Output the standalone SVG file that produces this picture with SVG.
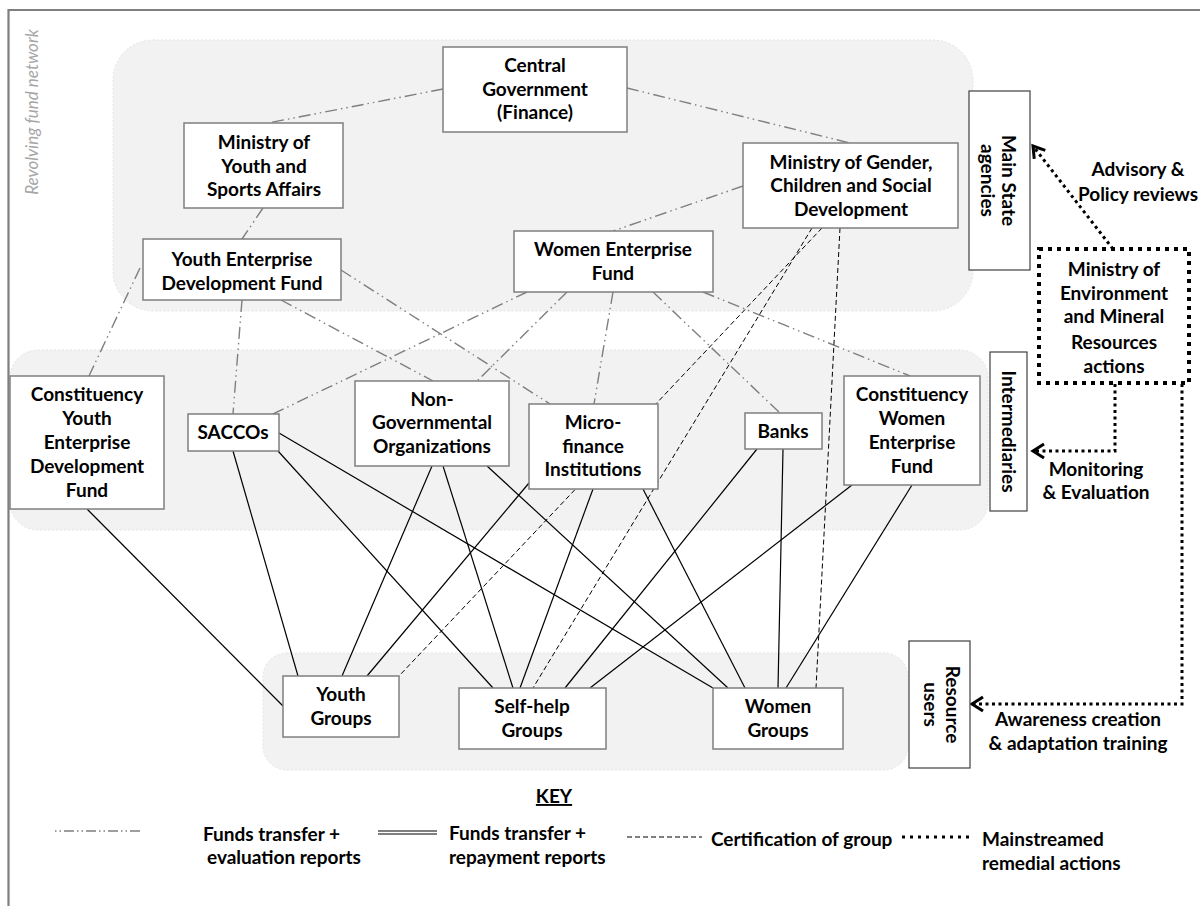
<svg xmlns="http://www.w3.org/2000/svg" width="1200" height="906" viewBox="0 0 1200 906">
<style>
.panel{fill:#f2f2f2;stroke:#e4e4e4;stroke-width:1;stroke-dasharray:2 2}
.node{fill:#ffffff;stroke:#7f7f7f;stroke-width:1.5}
.lab{fill:#ffffff;stroke:#404040;stroke-width:1.2}
.t{font-family:Lato,"Liberation Sans",sans-serif;font-weight:bold;font-size:19px;fill:#000;text-anchor:middle}
.tl{font-family:Lato,"Liberation Sans",sans-serif;font-weight:bold;font-size:19px;fill:#000}
.dd{stroke:#7f7f7f;stroke-width:1.4;fill:none;stroke-dasharray:12 4 1.5 4 1.5 4}
.sl{stroke:#000;stroke-width:1.2;fill:none}
.ds{stroke:#000;stroke-width:1;fill:none;stroke-dasharray:5 3}
.dot{stroke:#000;stroke-width:3;fill:none;stroke-dasharray:3 3.5}
</style>
<defs>
<marker id="chev" markerUnits="userSpaceOnUse" markerWidth="20" markerHeight="20" viewBox="-14 -10 20 20" refX="0" refY="0" orient="auto">
<path d="M-11,-7 L0,0 L-11,7" fill="none" stroke="#000" stroke-width="3"/>
</marker>
</defs>
<rect width="1200" height="906" fill="#fff"/>
<path d="M8.5,906 V10 H1200" fill="none" stroke="#7f7f7f" stroke-width="2.2"/>
<text transform="translate(33,112) rotate(-90)" x="0" y="5" font-family="Lato,'Liberation Sans',sans-serif" font-style="italic" font-size="17" fill="#a6a6a6" text-anchor="middle">Revolving fund network</text>

<g id="panels">
<rect class="panel" x="113" y="40" width="860" height="271" rx="40"/>
<rect class="panel" x="10" y="350" width="978" height="180" rx="28"/>
<rect class="panel" x="263" y="653" width="645" height="117" rx="24"/>
</g>

<g id="connectors">
<line class="dd" x1="443" y1="89" x2="268" y2="123"/>
<line class="dd" x1="627" y1="88" x2="850" y2="143"/>
<line class="dd" x1="263" y1="208" x2="242" y2="239"/>
<line class="dd" x1="743" y1="186" x2="613" y2="231"/>
<line class="dd" x1="140" y1="268" x2="89" y2="376"/>
<line class="dd" x1="242" y1="300" x2="233" y2="414"/>
<line class="dd" x1="341" y1="270" x2="550" y2="404"/>
<line class="dd" x1="281" y1="300" x2="433" y2="381"/>
<line class="dd" x1="527" y1="292" x2="273" y2="414"/>
<line class="dd" x1="567" y1="292" x2="477" y2="381"/>
<line class="dd" x1="613" y1="292" x2="594" y2="404"/>
<line class="dd" x1="653" y1="292" x2="780" y2="413"/>
<line class="dd" x1="703" y1="292" x2="910" y2="376"/>

<line class="ds" x1="822" y1="228" x2="399" y2="676"/>
<line class="ds" x1="812" y1="228" x2="533" y2="688"/>
<line class="ds" x1="840" y1="228" x2="816" y2="688"/>

<line class="sl" x1="87" y1="509" x2="283" y2="706"/>
<line class="sl" x1="233" y1="451" x2="298" y2="676"/>
<line class="sl" x1="278" y1="451" x2="493" y2="688"/>
<line class="sl" x1="279" y1="433" x2="713" y2="688"/>
<line class="sl" x1="432" y1="466" x2="342" y2="676"/>
<line class="sl" x1="443" y1="466" x2="513" y2="688"/>
<line class="sl" x1="487" y1="466" x2="728" y2="688"/>
<line class="sl" x1="529" y1="483" x2="367" y2="676"/>
<line class="sl" x1="593" y1="489" x2="520" y2="688"/>
<line class="sl" x1="643" y1="489" x2="745" y2="688"/>
<line class="sl" x1="757" y1="449" x2="565" y2="688"/>
<line class="sl" x1="783" y1="449" x2="778" y2="688"/>
<line class="sl" x1="852" y1="485" x2="590" y2="688"/>
<line class="sl" x1="912" y1="485" x2="786" y2="688"/>

<path class="dot" d="M1113,249 L1033,146" marker-end="url(#chev)"/>
<path class="dot" d="M1115,384 V451 H1033" marker-end="url(#chev)"/>
<path class="dot" d="M1182,384 V704 H972" marker-end="url(#chev)"/>
</g>

<g id="central-gov">
<rect class="node" x="443" y="47" width="184" height="85"/>
<text class="t" x="535" y="72">Central</text>
<text class="t" x="535" y="96">Government</text>
<text class="t" x="535" y="119">(Finance)</text>
</g>
<g id="ministry-youth">
<rect class="node" x="184" y="123" width="159" height="85"/>
<text class="t" x="264" y="149">Ministry of</text>
<text class="t" x="264" y="173">Youth and</text>
<text class="t" x="264" y="196">Sports Affairs</text>
</g>
<g id="yedf">
<rect class="node" x="143" y="239" width="198" height="61"/>
<text class="t" x="242" y="266">Youth Enterprise</text>
<text class="t" x="242" y="290">Development Fund</text>
</g>
<g id="ministry-gender">
<rect class="node" x="743" y="143" width="215" height="85"/>
<text class="t" x="851" y="169">Ministry of Gender,</text>
<text class="t" x="851" y="192">Children and Social</text>
<text class="t" x="851" y="216">Development</text>
</g>
<g id="wef">
<rect class="node" x="514" y="231" width="199" height="61"/>
<text class="t" x="613" y="256">Women Enterprise</text>
<text class="t" x="613" y="280">Fund</text>
</g>
<g id="label-main-state">
<rect class="lab" x="969" y="91" width="61" height="179"/>
<g transform="translate(999.5,180.5) rotate(90)">
<text class="t" x="0" y="-2.5">Main State</text>
<text class="t" x="0" y="18.5">agencies</text>
</g>
</g>
<g id="ministry-environment">
<rect x="1039" y="249" width="150" height="134" fill="#fff" stroke="#000" stroke-width="4" stroke-dasharray="4 5"/>
<text class="t" x="1114" y="276">Ministry of</text>
<text class="t" x="1114" y="300">Environment</text>
<text class="t" x="1114" y="323">and Mineral</text>
<text class="t" x="1114" y="349">Resources</text>
<text class="t" x="1114" y="373">actions</text>
</g>
<g id="label-advisory">
<text class="t" x="1138" y="176">Advisory &amp;</text>
<text class="t" x="1138" y="201">Policy reviews</text>
</g>
<g id="cyedf">
<rect class="node" x="10" y="376" width="154" height="133"/>
<text class="t" x="87" y="401">Constituency</text>
<text class="t" x="87" y="425">Youth</text>
<text class="t" x="87" y="449">Enterprise</text>
<text class="t" x="87" y="473">Development</text>
<text class="t" x="87" y="497">Fund</text>
</g>
<g id="saccos">
<rect class="node" x="188" y="414" width="91" height="37"/>
<text class="t" x="233" y="439">SACCOs</text>
</g>
<g id="ngo">
<rect class="node" x="355" y="381" width="154" height="85"/>
<text class="t" x="432" y="406">Non-</text>
<text class="t" x="432" y="429">Governmental</text>
<text class="t" x="432" y="453">Organizations</text>
</g>
<g id="mfi">
<rect class="node" x="529" y="404" width="129" height="85"/>
<text class="t" x="593" y="429">Micro-</text>
<text class="t" x="593" y="453">finance</text>
<text class="t" x="593" y="476">Institutions</text>
</g>
<g id="banks">
<rect class="node" x="745" y="413" width="77" height="36"/>
<text class="t" x="783" y="438">Banks</text>
</g>
<g id="cwef">
<rect class="node" x="844" y="376" width="136" height="109"/>
<text class="t" x="912" y="401">Constituency</text>
<text class="t" x="912" y="425">Women</text>
<text class="t" x="912" y="449">Enterprise</text>
<text class="t" x="912" y="473">Fund</text>
</g>
<g id="label-intermediaries">
<rect class="lab" x="990" y="352" width="37" height="159"/>
<g transform="translate(1008.5,431.5) rotate(90)">
<text class="t" x="0" y="7">Intermediaries</text>
</g>
</g>
<g id="label-monitoring">
<text class="t" x="1096" y="476">Monitoring</text>
<text class="t" x="1096" y="499">&amp; Evaluation</text>
</g>
<g id="youth-groups">
<rect class="node" x="283" y="676" width="116" height="61"/>
<text class="t" x="341" y="701">Youth</text>
<text class="t" x="341" y="725">Groups</text>
</g>
<g id="self-help-groups">
<rect class="node" x="459" y="688" width="147" height="61"/>
<text class="t" x="532" y="713">Self-help</text>
<text class="t" x="532" y="737">Groups</text>
</g>
<g id="women-groups">
<rect class="node" x="713" y="688" width="130" height="61"/>
<text class="t" x="778" y="713">Women</text>
<text class="t" x="778" y="737">Groups</text>
</g>
<g id="label-resource-users">
<rect class="lab" x="909" y="641" width="61" height="127"/>
<g transform="translate(939.5,704.5) rotate(90)">
<text class="t" x="0" y="-6.5">Resource</text>
<text class="t" x="0" y="15.5">users</text>
</g>
</g>
<g id="label-awareness">
<text class="t" x="1078" y="726">Awareness creation</text>
<text class="t" x="1078" y="750">&amp; adaptation training</text>
</g>

<g id="key">
<text class="t" x="554" y="803" font-size="17" text-decoration="underline">KEY</text>
<line x1="55" y1="831" x2="143" y2="831" stroke="#7f7f7f" stroke-width="1.4" stroke-dasharray="1.5 3 1.5 3 10 3"/>
<text class="tl" x="203" y="841">Funds transfer +</text>
<text class="tl" x="207" y="864">evaluation reports</text>
<line x1="378" y1="831" x2="437" y2="831" stroke="#000" stroke-width="1.2"/>
<line x1="378" y1="834" x2="437" y2="834" stroke="#000" stroke-width="1.2"/>
<text class="tl" x="449" y="840">Funds transfer +</text>
<text class="tl" x="449" y="864">repayment reports</text>
<line x1="627" y1="837" x2="702" y2="837" stroke="#000" stroke-width="1" stroke-dasharray="5 3"/>
<text class="tl" x="711" y="846">Certification of group</text>
<line x1="902" y1="837" x2="972" y2="837" stroke="#000" stroke-width="3" stroke-dasharray="3 5"/>
<text class="tl" x="982" y="846">Mainstreamed</text>
<text class="tl" x="982" y="870">remedial actions</text>
</g>
</svg>
